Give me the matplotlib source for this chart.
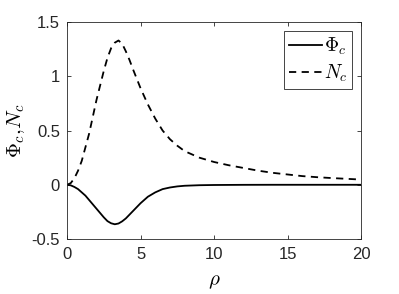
import matplotlib
matplotlib.use("Agg")
import matplotlib.pyplot as plt

plt.rcParams['font.family'] = ['Liberation Sans', 'DejaVu Sans']
plt.rcParams['mathtext.fontset'] = 'cm'

# values
rho_phi = [0, 0.25, 0.5, 0.75, 1, 1.25, 1.5, 1.75, 2, 2.25, 2.5, 2.75, 3,
           3.25, 3.5, 3.75, 4, 4.25, 4.5, 4.75, 5, 5.5, 6, 6.5,
           7, 7.5, 8, 9, 10, 12, 14, 20]
phi_c = [0, -0.005, -0.02, -0.04, -0.07, -0.10, -0.14, -0.18, -0.22, -0.26,
         -0.30, -0.335, -0.355, -0.364, -0.357, -0.337, -0.31, -0.275,
         -0.24, -0.205, -0.17, -0.11, -0.07, -0.04, -0.025, -0.015, -0.009,
         -0.004, -0.002, -0.0005, 0, 0]

rho_n = [0, 0.25, 0.5, 0.75, 1, 1.5, 2, 2.5, 2.75, 3, 3.25, 3.5, 3.75, 4,
         4.25, 4.5, 5, 5.5, 6, 6.5, 7, 7.5, 8, 9, 10, 11, 12, 13, 14, 15,
         16, 17, 18, 19, 20]
n_c = [0, 0.015, 0.06, 0.13, 0.22, 0.47, 0.78, 1.05, 1.17, 1.26, 1.31,
       1.33, 1.30, 1.23, 1.15, 1.06, 0.89, 0.74, 0.61, 0.50, 0.42, 0.36,
       0.31, 0.25, 0.21, 0.18, 0.155, 0.13, 0.11, 0.095, 0.08, 0.07, 0.062,
       0.055, 0.048]

fig = plt.figure(figsize=(3.99, 2.94), dpi=100)
ax = fig.add_axes([0.168, 0.187, 0.737, 0.738])

ax.plot(rho_phi, phi_c, 'k-', lw=1.3, label=r'$\Phi_c$')
ax.plot(rho_n, n_c, 'k--', lw=1.3, dashes=(4, 3), label=r'$N_c$')

ax.set_xlim(0, 20)
ax.set_ylim(-0.5, 1.5)
ax.set_xticks([0, 5, 10, 15, 20])
ax.set_yticks([-0.5, 0, 0.5, 1, 1.5])
ax.set_yticklabels(['-0.5', '0', '0.5', '1', '1.5'])
ax.tick_params(direction='in', top=True, right=True, length=3,
               labelsize=12, colors='#262626', width=0.6)
ax.tick_params(axis='x', pad=6)
ax.tick_params(axis='y', pad=5)
for s in ax.spines.values():
    s.set_color('#262626')
    s.set_linewidth(0.6)

ax.set_xlabel(r'$\rho$', fontsize=15, labelpad=7)
ax.set_ylabel(r'$\Phi_c{,}N_c$', fontsize=15, labelpad=3)

leg = ax.legend(loc='upper right', fontsize=14, handlelength=1.7,
                handletextpad=0.1, borderpad=0.25, borderaxespad=0.45,
                labelspacing=0.3, fancybox=False, framealpha=1)
leg.get_frame().set_edgecolor('#262626')
leg.get_frame().set_linewidth(0.6)

fig.savefig('out.png', dpi=100)
